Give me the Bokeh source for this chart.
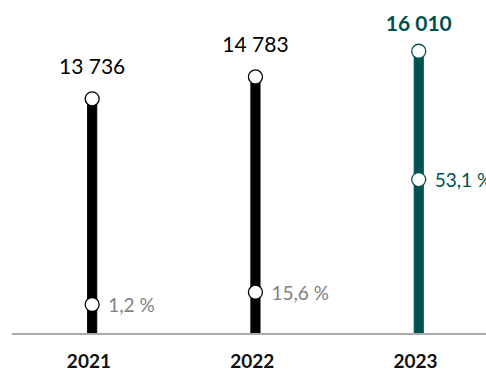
from bokeh.plotting import figure
from bokeh.models import ColumnDataSource, Span, Range1d
from bokeh.transform import dodge
from bokeh.core.properties import value
from bokeh.embed import file_html
from bokeh.resources import INLINE

# ---- data ----
years = [2021, 2022, 2023]
totals = [13736, 14783, 16010]
marker_values = [3910, 4500, 9880]      # position of the inner marker
shares = [1.2, 15.6, 53.1]              # percentage labels
axis_min = 2500

TEAL = "#005150"
GREY = "#7f7f7f"
FONT = "Lato"

bar_colors = ["#000000", "#000000", TEAL]
share_colors = [GREY, GREY, TEAL]

src = ColumnDataSource(dict(
    year=years,
    year_label=[str(y) for y in years],
    total=totals,
    total_label=[f"{v:,}".replace(",", " ") for v in totals],
    marker=marker_values,
    share_label=[f"{s:.1f}".replace(".", ",") + " %" for s in shares],
    bar_color=bar_colors,
    share_color=share_colors,
    total_color=["#000000", "#000000", TEAL],
    total_style=["normal", "normal", "bold"],
    total_offset=[-33, -33, -29],
))

p = figure(width=486, height=371, output_backend="svg", toolbar_location=None,
           x_range=Range1d(2020.526, 2023.435), y_range=Range1d(709, 18435),
           x_axis_type=None, y_axis_type=None,
           min_border_left=11, min_border_right=0, min_border_top=0, min_border_bottom=0)
p.outline_line_color = None
p.grid.visible = False
p.background_fill_color = "white"
p.border_fill_color = "white"

xb = dodge("year", 0.02, range=p.x_range)

p.add_layout(Span(location=axis_min, dimension="width", line_color="#aaaaaa", line_width=2))

p.vbar(x=xb, top="total", bottom=axis_min, width=0.056, color="bar_color", source=src)

p.scatter(x=xb, y="total", size=14, fill_color="white", line_color="bar_color",
          line_width=1.3, source=src)
p.scatter(x=xb, y="marker", size=14, fill_color="white", line_color="bar_color",
          line_width=1.3, source=src)

p.text(x=xb, y="total", text="total_label", text_align="center", text_baseline="alphabetic",
       y_offset="total_offset", text_font=value(FONT), text_font_size="21px",
       text_font_style="total_style", text_color="total_color", source=src)

p.text(x=xb, y="marker", text="share_label", text_align="left", text_baseline="middle",
       x_offset=16, text_font=value(FONT), text_font_size="19px",
       text_color="share_color", source=src)

p.text(x="year", y=axis_min, text="year_label", text_align="center", text_baseline="alphabetic",
       y_offset=27, text_font=value(FONT), text_font_size="19px", text_font_style="bold",
       text_color="#111111", source=src)

open("out.html", "w").write(file_html(p, INLINE))
